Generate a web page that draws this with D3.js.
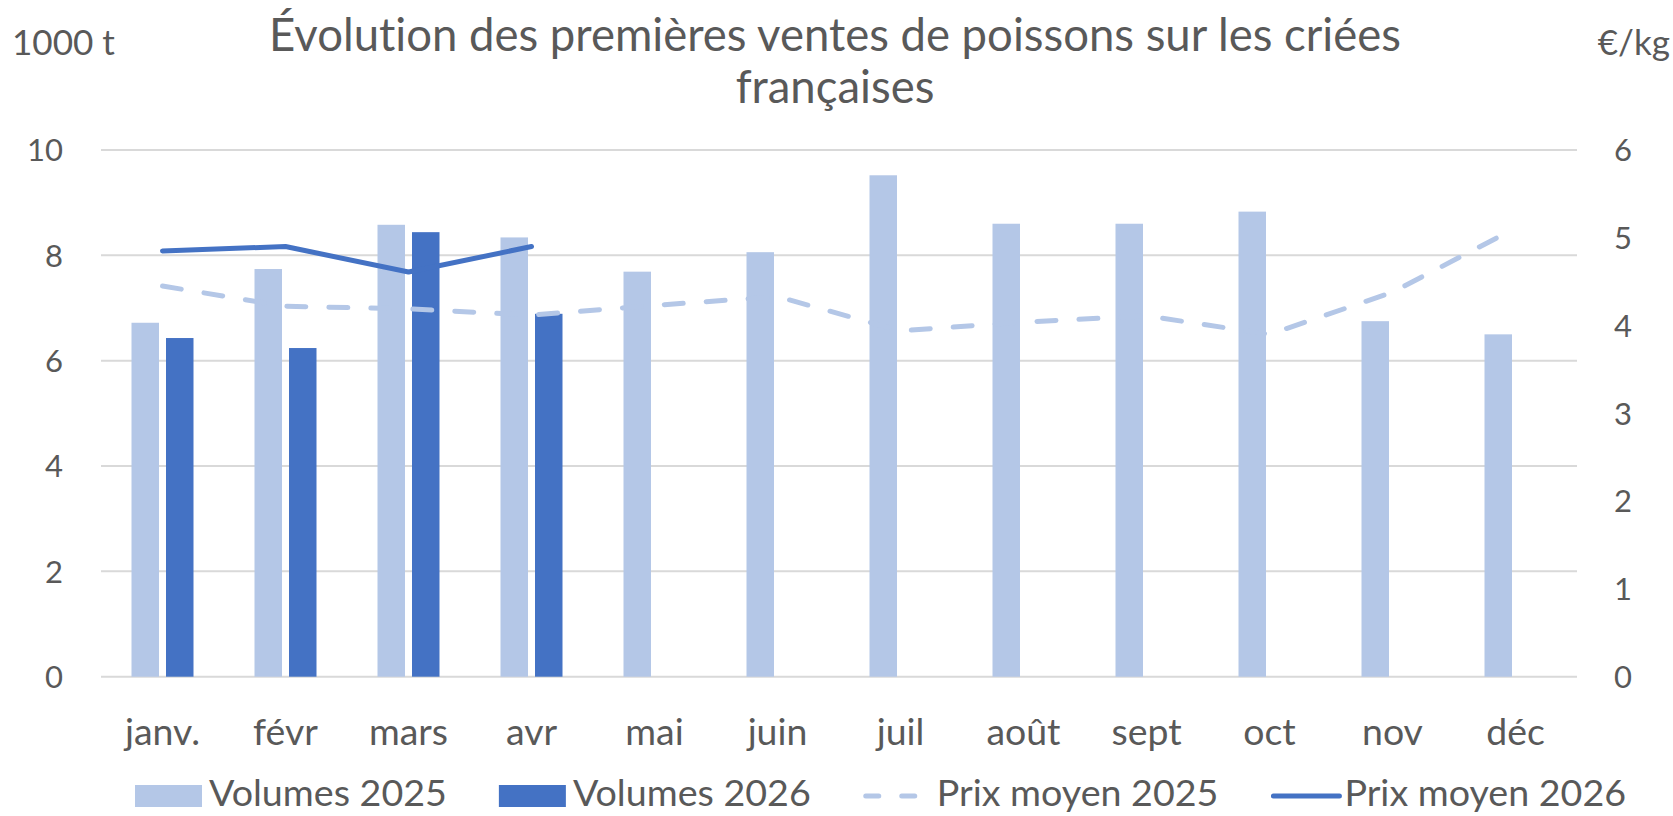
<!DOCTYPE html>
<html>
<head>
<meta charset="utf-8">
<script src="https://cdn.jsdelivr.net/npm/d3@7"></script>
<style>
  body { margin: 0; background: #fff; }
  svg text { font-family: Lato, "Noto Sans", sans-serif; fill: #595959; font-variant-ligatures: none; }
</style>
</head>
<body>
<svg id="chart" width="1673" height="816"></svg>
<script>
// data
const months = ["janv.", "févr", "mars", "avr", "mai", "juin", "juil", "août", "sept", "oct", "nov", "déc"];
const vol2025 = [6.72, 7.74, 8.58, 8.34, 7.69, 8.06, 9.52, 8.60, 8.60, 8.83, 6.75, 6.50];
const vol2026 = [6.43, 6.24, 8.44, 6.89];
const prix2025 = [4.45, 4.22, 4.19, 4.12, 4.23, 4.33, 3.94, 4.04, 4.11, 3.90, 4.38, 5.11];
const prix2026 = [4.85, 4.90, 4.61, 4.90];
const leftTicks = [0, 2, 4, 6, 8, 10];
const rightTicks = [0, 1, 2, 3, 4, 5, 6];
const legendItems = ["Volumes 2025", "Volumes 2026", "Prix moyen 2025", "Prix moyen 2026"];

const light = '#b4c7e7';
const dark = '#4472c4';

const svg = d3.select('#chart');
const plotLeft = 101, plotRight = 1577, plotTop = 150, plotBottom = 676.7;

const x = d3.scaleBand().domain(months).range([plotLeft, plotRight]).padding(0);
const x1 = d3.scaleBand().domain(['2025', '2026']).range([0, x.bandwidth()])
  .paddingInner(0.203).paddingOuter(0.884);
const yL = d3.scaleLinear().domain([0, 10]).range([plotBottom, plotTop]);
const yR = d3.scaleLinear().domain([0, 6]).range([plotBottom, plotTop]);

// fit a font size so a sample string has a given width
function fitSize(sample, width, base) {
  const t = svg.append('text').attr('font-size', base).text(sample);
  const w = t.node().getComputedTextLength();
  t.remove();
  return base * width / w;
}

const titleSize = fitSize("Évolution des premières ventes de poissons sur les criées", 1132, 38);
const tickSize = fitSize("10", 36, 32);
const xSize = fitSize("janv.", 75, 32);
const legSize = fitSize("Volumes 2025", 238, 30);
const unitSize = fitSize("1000 t", 103, 30);

// gridlines
svg.append('g')
  .selectAll('line')
  .data(leftTicks)
  .enter()
  .append('line')
  .attr('x1', plotLeft).attr('x2', plotRight)
  .attr('y1', d => yL(d)).attr('y2', d => yL(d))
  .attr('stroke', '#d9d9d9')
  .attr('stroke-width', 2);

// left axis labels
svg.append('g')
  .selectAll('text')
  .data(leftTicks)
  .enter()
  .append('text')
  .attr('x', 63)
  .attr('y', d => yL(d))
  .attr('dy', '0.36em')
  .attr('text-anchor', 'end')
  .attr('font-size', tickSize)
  .text(d => d);

// right axis labels
svg.append('g')
  .selectAll('text')
  .data(rightTicks)
  .enter()
  .append('text')
  .attr('x', 1614)
  .attr('y', d => yR(d))
  .attr('dy', '0.36em')
  .attr('text-anchor', 'start')
  .attr('font-size', tickSize)
  .text(d => d);

// bars
svg.append('g')
  .selectAll('rect')
  .data(vol2025)
  .enter()
  .append('rect')
  .attr('x', (d, i) => x(months[i]) + x1('2025'))
  .attr('width', x1.bandwidth())
  .attr('y', d => yL(d))
  .attr('height', d => yL(0) - yL(d))
  .attr('fill', light);

svg.append('g')
  .selectAll('rect')
  .data(vol2026)
  .enter()
  .append('rect')
  .attr('x', (d, i) => x(months[i]) + x1('2026'))
  .attr('width', x1.bandwidth())
  .attr('y', d => yL(d))
  .attr('height', d => yL(0) - yL(d))
  .attr('fill', dark);

// price lines
const line = d3.line()
  .x((d, i) => x(months[i]) + x.bandwidth() / 2)
  .y(d => yR(d));

svg.append('path')
  .datum(prix2025)
  .attr('d', line)
  .attr('fill', 'none')
  .attr('stroke', light)
  .attr('stroke-width', 5)
  .attr('stroke-linecap', 'round')
  .attr('stroke-linejoin', 'round')
  .attr('stroke-dasharray', '19,23');

svg.append('path')
  .datum(prix2026)
  .attr('d', line)
  .attr('fill', 'none')
  .attr('stroke', dark)
  .attr('stroke-width', 5)
  .attr('stroke-linecap', 'round')
  .attr('stroke-linejoin', 'round');

// month labels
svg.append('g')
  .selectAll('text')
  .data(months)
  .enter()
  .append('text')
  .attr('x', d => x(d) + x.bandwidth() / 2)
  .attr('y', 745)
  .attr('text-anchor', 'middle')
  .attr('font-size', xSize)
  .text(d => d);

// title and units
svg.append('text')
  .attr('x', 835).attr('y', 51)
  .attr('text-anchor', 'middle')
  .attr('font-size', titleSize)
  .text("Évolution des premières ventes de poissons sur les criées");
svg.append('text')
  .attr('x', 835).attr('y', 103)
  .attr('text-anchor', 'middle')
  .attr('font-size', titleSize)
  .text("françaises");

svg.append('text')
  .attr('x', 12).attr('y', 55)
  .attr('font-size', unitSize)
  .text("1000 t");
svg.append('text')
  .attr('x', 1670).attr('y', 55)
  .attr('text-anchor', 'end')
  .attr('font-size', unitSize)
  .text("€/kg");

// legend
const leg = svg.append('g');
let lx = 135;
legendItems.forEach((name, i) => {
  const g = leg.append('g');
  if (i < 2) {
    g.append('rect')
      .attr('x', lx).attr('y', 785)
      .attr('width', 67).attr('height', 22)
      .attr('fill', i === 0 ? light : dark);
  } else if (i === 2) {
    g.append('line')
      .attr('x1', lx + 3).attr('x2', lx + 66)
      .attr('y1', 796).attr('y2', 796)
      .attr('stroke', light)
      .attr('stroke-width', 5)
      .attr('stroke-linecap', 'round')
      .attr('stroke-dasharray', '13,23');
  } else {
    g.append('line')
      .attr('x1', lx + 3).attr('x2', lx + 69)
      .attr('y1', 796).attr('y2', 796)
      .attr('stroke', dark)
      .attr('stroke-width', 5)
      .attr('stroke-linecap', 'round');
  }
  const t = g.append('text')
    .attr('x', lx + 74)
    .attr('y', 806)
    .attr('font-size', legSize)
    .text(name);
  lx += 74 + t.node().getComputedTextLength() + 52;
});
</script>
</body>
</html>
